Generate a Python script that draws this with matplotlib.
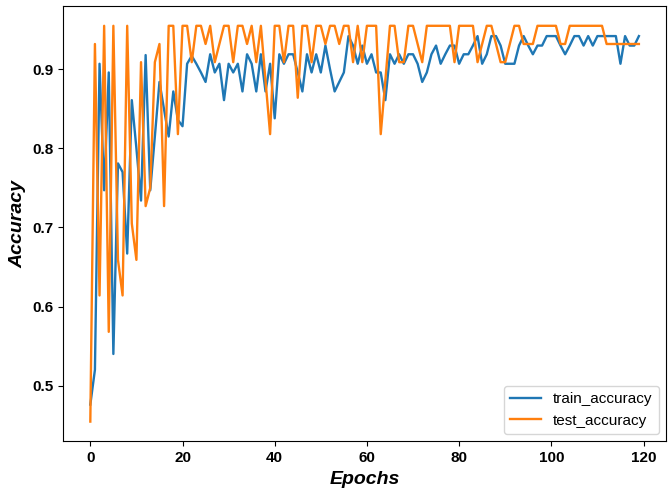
import matplotlib
matplotlib.use("Agg")
import matplotlib.pyplot as plt

plt.rcParams['font.family'] = ['Liberation Sans', 'DejaVu Sans']

epochs = list(range(120))

train_accuracy = [
    0.476, 0.520, 0.907, 0.747, 0.896, 0.540, 0.781, 0.770, 0.667, 0.861,
    0.800, 0.734, 0.918, 0.747, 0.815, 0.884, 0.849, 0.815, 0.872, 0.836,
    0.828, 0.907, 0.917, 0.907, 0.896, 0.884, 0.919, 0.896, 0.907, 0.861,
    0.907, 0.896, 0.907, 0.872, 0.919, 0.907, 0.872, 0.919, 0.872, 0.907,
    0.838, 0.919, 0.907, 0.919, 0.919, 0.896, 0.872, 0.919, 0.896, 0.919,
    0.896, 0.930, 0.900, 0.872, 0.884, 0.896, 0.942, 0.930, 0.907, 0.930,
    0.907, 0.919, 0.896, 0.896, 0.861, 0.919, 0.907, 0.919, 0.907, 0.919,
    0.919, 0.907, 0.884, 0.896, 0.919, 0.930, 0.907, 0.919, 0.930, 0.930,
    0.907, 0.919, 0.919, 0.930, 0.942, 0.907, 0.919, 0.942, 0.942, 0.930,
    0.907, 0.907, 0.907, 0.930, 0.942, 0.930, 0.919, 0.930, 0.930, 0.942,
    0.942, 0.942, 0.930, 0.919, 0.930, 0.942, 0.942, 0.930, 0.942, 0.930,
    0.942, 0.942, 0.942, 0.942, 0.942, 0.907, 0.942, 0.930, 0.930, 0.942,
]

test_accuracy = [
    0.4545, 0.932, 0.614, 0.955, 0.568, 0.955, 0.659, 0.614, 0.955, 0.705,
    0.659, 0.909, 0.727, 0.750, 0.909, 0.932, 0.727, 0.955, 0.955, 0.818,
    0.955, 0.955, 0.909, 0.955, 0.955, 0.932, 0.955, 0.909, 0.932, 0.955,
    0.955, 0.909, 0.955, 0.955, 0.932, 0.955, 0.909, 0.955, 0.886, 0.818,
    0.955, 0.955, 0.909, 0.955, 0.955, 0.864, 0.955, 0.955, 0.909, 0.955,
    0.955, 0.932, 0.955, 0.955, 0.932, 0.955, 0.955, 0.909, 0.955, 0.909,
    0.955, 0.955, 0.955, 0.818, 0.886, 0.955, 0.955, 0.909, 0.909, 0.955,
    0.955, 0.932, 0.909, 0.955, 0.955, 0.955, 0.955, 0.955, 0.955, 0.909,
    0.955, 0.955, 0.955, 0.955, 0.909, 0.932, 0.955, 0.955, 0.932, 0.909,
    0.909, 0.932, 0.955, 0.955, 0.932, 0.932, 0.932, 0.955, 0.955, 0.955,
    0.955, 0.955, 0.932, 0.932, 0.955, 0.955, 0.955, 0.955, 0.955, 0.955,
    0.955, 0.955, 0.932, 0.932, 0.932, 0.932, 0.932, 0.932, 0.932, 0.932,
]

fig = plt.figure(figsize=(6.69, 5.01), dpi=100)
ax = fig.add_axes([0.094, 0.119, 0.902, 0.869])

ax.plot(epochs, train_accuracy, label='train_accuracy', linewidth=1.7)
ax.plot(epochs, test_accuracy, label='test_accuracy', linewidth=1.7)

ax.set_xlabel('Epochs', fontsize=14, fontweight='bold', fontstyle='italic')
ax.set_ylabel('Accuracy', fontsize=14, fontweight='bold', fontstyle='italic')
for lab in ax.get_xticklabels() + ax.get_yticklabels():
    lab.set_fontweight('bold')
ax.tick_params(labelsize=11)

ax.legend(loc='lower right', fontsize=11)

plt.savefig('out.png', dpi=100)
